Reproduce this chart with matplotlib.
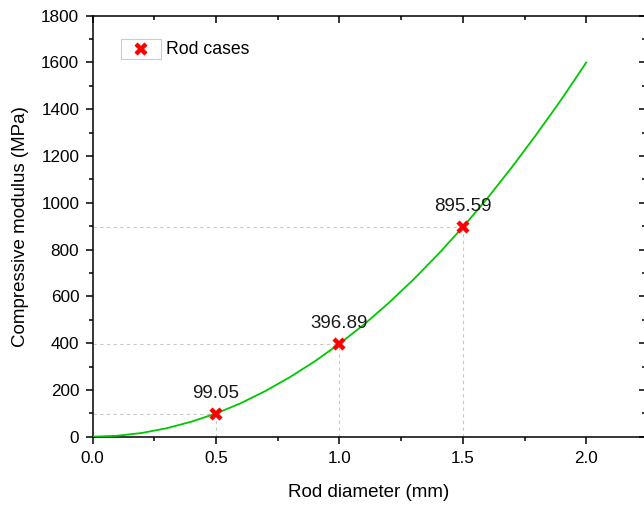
import matplotlib
matplotlib.use("Agg")
import matplotlib.pyplot as plt
from matplotlib.patches import Rectangle
from matplotlib.ticker import MultipleLocator

plt.rcParams['font.family'] = ['Liberation Sans', 'DejaVu Sans']

# Fitted curve
curve_d = [0.0, 0.1, 0.2, 0.3, 0.4, 0.5, 0.6, 0.7, 0.8, 0.9, 1.0,
           1.1, 1.2, 1.3, 1.4, 1.5, 1.6, 1.7, 1.8, 1.9, 2.0]
curve_e = [0, 4, 16, 36, 64, 99, 143, 195, 255, 322, 397,
           480, 572, 672, 780, 896, 1020, 1154, 1295, 1443, 1600]

# Rod cases
rod_d = [0.5, 1.0, 1.5]
rod_e = [99.05, 396.89, 895.59]
rod_labels = ["99.05", "396.89", "895.59"]

fig = plt.figure(figsize=(6.44, 5.05), dpi=100)
W, H = 644, 505
left_px, right_px, bottom_px, top_px = 92.5, 645.5, 436.7, 15.7
ax = fig.add_axes([left_px / W, 1 - bottom_px / H,
                   (right_px - left_px) / W, (bottom_px - top_px) / H])

green = '#00C800'
ax.plot(curve_d, curve_e, color=green, lw=1.3, zorder=3)

for d, e in zip(rod_d, rod_e):
    ax.plot([0, d], [e, e], color='#c8c8c8', lw=0.8, ls=(0, (3, 3)), zorder=1)
    ax.plot([d, d], [0, e], color='#c8c8c8', lw=0.8, ls=(0, (3, 3)), zorder=1)

ax.plot(rod_d, rod_e, ls='none', marker='x', color='#FF0000', ms=7.5,
        mew=3.2, zorder=4)

for d, e, lab in zip(rod_d, rod_e, rod_labels):
    ax.annotate(lab, (d, e), xytext=(0, 11.5), textcoords='offset points',
                ha='center', va='baseline', fontsize=13.5, color='#1a1a1a')

ax.set_xlim(0, 2.24)
ax.set_ylim(0, 1800)
ax.xaxis.set_major_locator(MultipleLocator(0.5))
ax.xaxis.set_minor_locator(MultipleLocator(0.25))
ax.yaxis.set_major_locator(MultipleLocator(200))
ax.yaxis.set_minor_locator(MultipleLocator(100))
ax.xaxis.set_major_formatter(matplotlib.ticker.FormatStrFormatter('%.1f'))

for s in ax.spines.values():
    s.set_linewidth(1.1)

ax.tick_params(axis='both', which='major', labelsize=12.3, width=1.1, length=5)
ax.tick_params(axis='both', which='minor', width=1.1, length=2.7)
ax.tick_params(axis='x', which='both', direction='out', top=True)
ax.tick_params(axis='y', which='both', direction='out', right=True)
ax.tick_params(axis='x', which='major', pad=5)
ax.tick_params(axis='y', which='major', pad=4.5)
# top/right ticks point the same way as bottom/left (into plot)
for t in ax.xaxis.get_major_ticks() + ax.xaxis.get_minor_ticks():
    t.tick2line.set_marker(matplotlib.lines.TICKDOWN)
for t in ax.yaxis.get_major_ticks() + ax.yaxis.get_minor_ticks():
    t.tick2line.set_marker(matplotlib.lines.TICKLEFT)

ax.set_xlabel('Rod diameter (mm)', fontsize=13.5, labelpad=13)
ax.set_ylabel('Compressive modulus (MPa)', fontsize=13.5, labelpad=9)

# Legend (Origin style: frame around symbol only)
ax.add_patch(Rectangle((0.051, 0.8964), 0.0724, 0.0476, transform=ax.transAxes,
                       fill=False, ec='#cccccc', lw=0.8, zorder=5))
ax.plot([0.0872], [0.920], transform=ax.transAxes, marker='x', color='#FF0000',
        ms=7.5, mew=3.2, ls='none', zorder=6)
ax.text(0.1325, 0.920, 'Rod cases', transform=ax.transAxes, fontsize=12.7,
        va='center', ha='left')

fig.savefig('out.png', dpi=100)
